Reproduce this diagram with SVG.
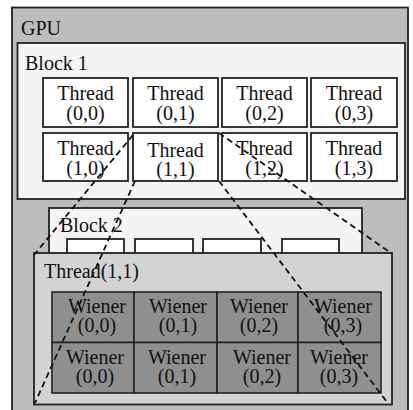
<svg xmlns="http://www.w3.org/2000/svg" width="413" height="410" viewBox="0 0 413 410">
<style>
text{font-family:"Liberation Serif","Times New Roman",serif;font-size:20px;fill:#111}
.c{text-anchor:middle}
.box{stroke:#222;stroke-width:1.8}
.cell{fill:#fff;stroke:#222;stroke-width:1.8}
.w{fill:#8f8f8f;stroke:#222;stroke-width:1.6}
.dash{stroke:#111;stroke-width:1.8;stroke-dasharray:6 4;fill:none}
</style>
<rect width="413" height="410" fill="#fff"/>
<g id="gpu">
<rect class="box" x="12" y="7.5" width="396" height="410" fill="#bdbdbd"/>
<text x="21" y="35">GPU</text>
</g>
<g id="block1">
<rect class="box" x="17.5" y="43" width="387.5" height="156" fill="#f4f4f4"/>
<text x="25" y="70">Block 1</text>
</g>
<g id="t00"><rect class="cell" x="43" y="78" width="85" height="49"/><text class="c" x="85.5" y="100">Thread</text><text class="c" x="85.5" y="120">(0,0)</text></g>
<g id="t01"><rect class="cell" x="133" y="78" width="85" height="49"/><text class="c" x="175.5" y="100">Thread</text><text class="c" x="175.5" y="120">(0,1)</text></g>
<g id="t02"><rect class="cell" x="222" y="78" width="85" height="49"/><text class="c" x="264.5" y="100">Thread</text><text class="c" x="264.5" y="120">(0,2)</text></g>
<g id="t03"><rect class="cell" x="311" y="78" width="86" height="49"/><text class="c" x="354" y="100">Thread</text><text class="c" x="354" y="120">(0,3)</text></g>
<g id="t10"><rect class="cell" x="43" y="133" width="85" height="48"/><text class="c" x="85.5" y="155">Thread</text><text class="c" x="85.5" y="175">(1,0)</text></g>
<g id="t11"><rect class="cell" x="133" y="133" width="85" height="48"/><text class="c" x="175.5" y="157">Thread</text><text class="c" x="175.5" y="176">(1,1)</text></g>
<g id="t12"><rect class="cell" x="222" y="133" width="85" height="48"/><text class="c" x="264.5" y="155">Thread</text><text class="c" x="264.5" y="175">(1,2)</text></g>
<g id="t13"><rect class="cell" x="311" y="133" width="86" height="48"/><text class="c" x="354" y="155">Thread</text><text class="c" x="354" y="175">(1,3)</text></g>
<g id="block2">
<rect class="box" x="49" y="208" width="313" height="60" fill="#f4f4f4"/>
<text x="60" y="232">Block 2</text>
<rect class="cell" x="67" y="239" width="57" height="25"/>
<rect class="cell" x="135" y="239" width="58" height="25"/>
<rect class="cell" x="203" y="239" width="58" height="25"/>
<rect class="cell" x="282" y="239" width="57" height="25"/>
</g>
<g id="thread11">
<rect class="box" x="34" y="253" width="358" height="151.5" fill="#d3d3d3"/>
<text x="44" y="278">Thread(1,1)</text>
</g>
<g id="w00"><rect class="w" x="52" y="292" width="82" height="50.5"/><text class="c" x="97" y="313">Wiener</text><text class="c" x="97" y="332">(0,0)</text></g>
<g id="w01"><rect class="w" x="134" y="292" width="83" height="50.5"/><text class="c" x="178" y="313">Wiener</text><text class="c" x="178" y="332">(0,1)</text></g>
<g id="w02"><rect class="w" x="217" y="292" width="81" height="50.5"/><text class="c" x="259" y="313">Wiener</text><text class="c" x="259" y="332">(0,2)</text></g>
<g id="w03"><rect class="w" x="298" y="292" width="83" height="50.5"/><text class="c" x="343" y="313">Wiener</text><text class="c" x="343" y="332">(0,3)</text></g>
<g id="w10"><rect class="w" x="52" y="342.5" width="82" height="50.5"/><text class="c" x="95" y="364">Wiener</text><text class="c" x="95" y="383">(0,0)</text></g>
<g id="w11"><rect class="w" x="134" y="342.5" width="83" height="50.5"/><text class="c" x="177" y="364">Wiener</text><text class="c" x="177" y="383">(0,1)</text></g>
<g id="w12"><rect class="w" x="217" y="342.5" width="81" height="50.5"/><text class="c" x="262" y="364">Wiener</text><text class="c" x="262" y="383">(0,2)</text></g>
<g id="w13"><rect class="w" x="298" y="342.5" width="83" height="50.5"/><text class="c" x="339" y="364">Wiener</text><text class="c" x="339" y="383">(0,3)</text></g>
<g id="connectors">
<line class="dash" x1="133" y1="135" x2="34" y2="255"/>
<line class="dash" x1="135" y1="181" x2="35" y2="403"/>
<line class="dash" x1="219" y1="133" x2="391" y2="253"/>
<line class="dash" x1="219" y1="181" x2="387" y2="402"/>
</g>
</svg>
